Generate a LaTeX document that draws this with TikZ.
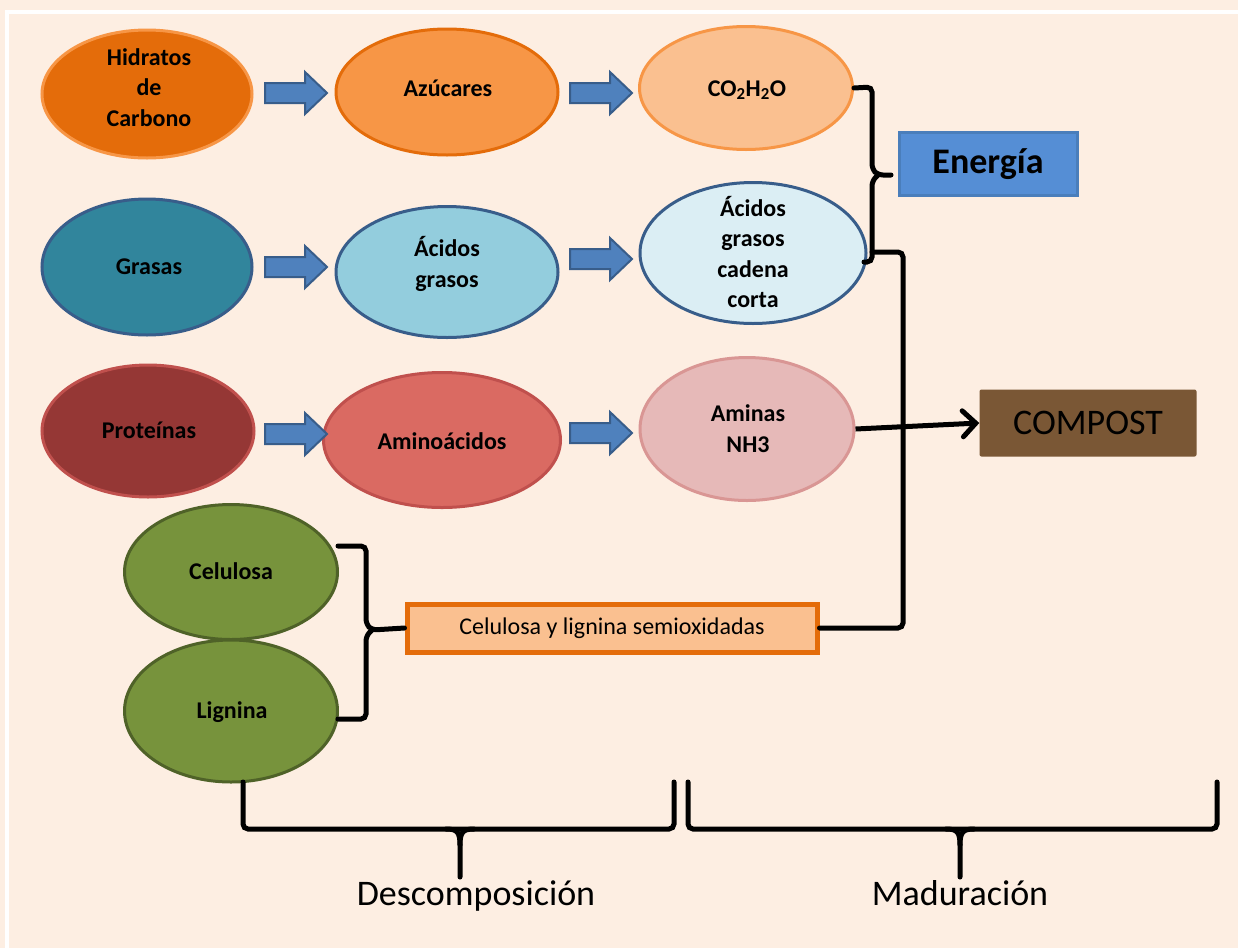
\documentclass[tikz,border=0pt]{standalone}
\usepackage{fontspec}
\setmainfont{Carlito}
\usetikzlibrary{shapes.geometric,arrows.meta}
\definecolor{bg}{HTML}{FDEEE2}
\definecolor{orD}{HTML}{E46C0A}
\definecolor{orM}{HTML}{F79646}
\definecolor{orL}{HTML}{FAC090}
\definecolor{teal}{HTML}{31859C}
\definecolor{blD}{HTML}{385D8A}
\definecolor{blM}{HTML}{93CDDD}
\definecolor{blL}{HTML}{DBEEF4}
\definecolor{rdD}{HTML}{953735}
\definecolor{rdB}{HTML}{C0504D}
\definecolor{rdM}{HTML}{DA6A62}
\definecolor{rdL}{HTML}{E6B9B8}
\definecolor{rdLB}{HTML}{D99694}
\definecolor{grF}{HTML}{77933C}
\definecolor{grB}{HTML}{4F6228}
\definecolor{arF}{HTML}{4F81BD}
\definecolor{enF}{HTML}{558ED5}
\definecolor{enB}{HTML}{4A7EBB}
\definecolor{cpF}{HTML}{7A5735}
\begin{document}
\begin{tikzpicture}[x=1pt,y=-1pt,
  ell/.style={ellipse, draw, line width=3pt, inner sep=0pt},
  lbl/.style={align=center, inner sep=0pt, font=\fontsize{24}{30.5}\selectfont\bfseries},
  brk/.style={line width=5pt, rounded corners=5pt, line cap=round},
  spk/.style={line width=5pt, line cap=round},
  bigtxt/.style={font=\fontsize{36}{40}\selectfont},
  barrow/.pic={\draw[fill=arF, draw=blD, line width=2pt, line join=miter]
    (0,-10) -- (40,-10) -- (40,-21) -- (62,0) -- (40,21) -- (40,10) -- (0,10) -- cycle;}
]
\useasboundingbox (0,0) rectangle (1238,948);
\fill[bg] (0,0) rectangle (1238,948);
\draw[white, line width=4pt] (7,948) -- (7,12) -- (1238,12);

% row 1
\node[ell, fill=orD, draw=orM, minimum width=210pt, minimum height=128pt] (hc) at (147,94) {};
\node[lbl] (hct) at (149,87.5) {Hidratos\\de\\Carbono};
\node[ell, fill=orM, draw=orD, minimum width=222pt, minimum height=126pt] (az) at (447,92) {};
\node[lbl] (azt) at (448,88) {Azúcares};
\node[ell, fill=orL, draw=orM, minimum width=213pt, minimum height=123pt] (co) at (746,88) {};
\node[lbl] (cot) at (747,90) {CO\textsubscript{2}H\textsubscript{2}O};
% row 2
\node[ell, fill=teal, draw=blD, minimum width=210pt, minimum height=136pt] (gr) at (147,267) {};
\node[lbl] (grt) at (149,267) {Grasas};
\node[ell, fill=blM, draw=blD, minimum width=222pt, minimum height=131pt] (ag) at (447,272) {};
\node[lbl] (agt) at (447,264) {Ácidos\\grasos};
\node[ell, fill=blL, draw=blD, minimum width=226pt, minimum height=141pt] (agc) at (753,253) {};
\node[lbl] (agct) at (753,252) {Ácidos\\grasos\\cadena\\corta};
% row 3
\node[ell, fill=rdD, draw=rdB, minimum width=212pt, minimum height=132pt] (pr) at (148,431) {};
\node[lbl] (prt) at (149,430) {Proteínas};
\node[ell, fill=rdM, draw=rdB, minimum width=237pt, minimum height=135pt] (am) at (442,440) {};
\node[lbl] (amt) at (442,441) {Aminoácidos};
\node[ell, fill=rdL, draw=rdLB, minimum width=214pt, minimum height=143pt] (an) at (747,429) {};
\node[lbl] (ant) at (748,428.5) {Aminas\\NH3};
% row 4
\node[ell, fill=grF, draw=grB, minimum width=213pt, minimum height=135pt] (ce) at (231,572) {};
\node[lbl] (cet) at (231,571) {Celulosa};
\node[ell, fill=grF, draw=grB, minimum width=213pt, minimum height=142pt] (li) at (231,711) {};
\node[lbl] (lit) at (232,712) {Lignina};

% block arrows
\pic at (265,93) {barrow};
\pic at (570,93) {barrow};
\pic at (265,267) {barrow};
\pic at (570,259) {barrow};
\pic at (265,434) {barrow};
\pic at (570,433) {barrow};

% boxes
\node[draw=enB, fill=enF, line width=3pt, minimum width=178pt, minimum height=63pt,
  font=\fontsize{36}{40}\selectfont\bfseries] (en) at (988,164) {Energía};
\node[fill=cpF, rounded corners=2pt, minimum width=217pt, minimum height=67pt, bigtxt] (cp) at (1088,423) {COMPOST};
\node[draw=orD, fill=orL, line width=5pt, minimum width=410pt, minimum height=48pt,
  font=\fontsize{24}{28}\selectfont] (se) at (612,628) {Celulosa y lignina semioxidadas};

% energy bracket
\coordinate (eb) at (891,175);
\draw[brk] (co.east) -- (872,87) -- (872,169) -- (878,175) -- (eb);
\draw[brk] (878,175) -- (872,181) -- (872,262) -- (864,262);
\draw[brk] (872,252) -- (903,252) -- (903,628) -- (se.east);

% compost arrow
\draw[line width=5pt, -{Straight Barb[length=13pt,width=26pt,line cap=round]}] (an.east) -- (cp.west);

% cellulose brace
\draw[brk] (338,546) -- (366,546) -- (366,624) -- (372,630) -- (se.west);
\draw[brk] (372,630) -- (366,636) -- (366,719) -- (338,719);

% bottom braces
\draw[brk] (243,782) -- (243,829) -- (674,829) -- (674,782);
\draw[spk] (446,829) .. controls (457,829) and (460,832) .. (460,845) -- (460,877);
\draw[spk] (474,829) .. controls (463,829) and (460,832) .. (460,845);
\draw[brk] (688,782) -- (688,829) -- (1217,829) -- (1217,782);
\draw[spk] (946,829) .. controls (957,829) and (960,832) .. (960,845) -- (960,877);
\draw[spk] (974,829) .. controls (963,829) and (960,832) .. (960,845);

\node[bigtxt, anchor=base] (dec) at (476,905) {Descomposición};
\node[bigtxt, anchor=base] (mad) at (960,905) {Maduración};
\end{tikzpicture}
\end{document}
